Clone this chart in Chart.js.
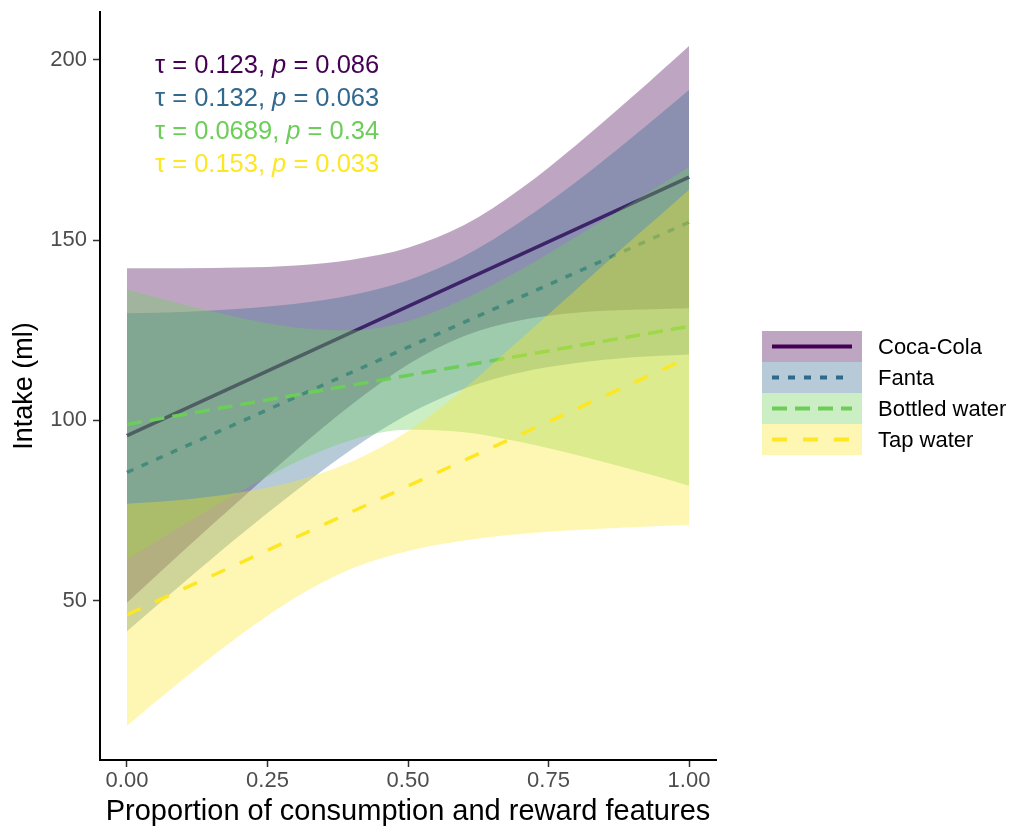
<!DOCTYPE html>
<html>
<head>
<meta charset="utf-8">
<script src="https://cdn.jsdelivr.net/npm/chart.js@4.4.1/dist/chart.umd.min.js"></script>
<style>
  html, body { margin: 0; background: #fff; }
</style>
</head>
<body>
<canvas id="chart" width="1015" height="829"></canvas>
<script>
const xGrid = [0, 0.1, 0.2, 0.3, 0.4, 0.5, 0.6, 0.7, 0.8, 0.9, 1.0];
const fitX = [0, 1];

const groups = ['Coca-Cola', 'Fanta', 'Bottled water', 'Tap water'];

const cocaUpper = [142.2, 142.2, 142.4, 143.0, 144.6, 147.9, 154.2, 164.2, 176.5, 189.9, 203.9];
const cocaLower = [49.4, 63.8, 77.8, 91.6, 104.4, 115.5, 123.4, 127.8, 129.9, 130.7, 131.1];
const cocaFit = [95.8, 167.5];

const fantaUpper = [129.7, 130.1, 131.0, 132.4, 134.8, 138.9, 145.6, 155.1, 166.3, 178.7, 191.7];
const fantaLower = [41.5, 54.9, 68.0, 80.4, 92.0, 101.7, 108.8, 113.3, 115.9, 117.5, 118.3];
const fantaFit = [85.6, 155.0];

const bottledUpper = [136.4, 132.2, 128.5, 125.8, 125.0, 127.6, 133.7, 141.8, 151.0, 160.5, 170.3];
const bottledLower = [61.4, 71.0, 80.1, 88.4, 94.6, 97.4, 96.7, 94.0, 90.4, 86.3, 81.9];
const bottledFit = [98.9, 126.1];

const tapUpper = [76.9, 78.0, 80.0, 83.2, 88.6, 97.0, 108.8, 122.5, 136.4, 150.3, 164.0];
const tapLower = [15.3, 28.2, 40.3, 50.9, 58.9, 63.8, 66.7, 68.5, 69.6, 70.4, 71.0];
const tapFit = [46.1, 117.5];

const stats = [
    ['0.123', '0.086'],
    ['0.132', '0.063'],
    ['0.0689', '0.34'],
    ['0.153', '0.033'],
];

const xTicks = [0, 0.25, 0.5, 0.75, 1];
const yTicks = [50, 100, 150, 200];

const colors = ['#440154', '#31688E', '#6CCE59', '#FDE725'];
const fills = ['rgba(68,1,84,0.35)', 'rgba(49,104,142,0.35)', 'rgba(108,206,89,0.35)', 'rgba(253,231,37,0.35)'];
const dashes = [[], [7, 9], [15, 8], [15, 16]];

const FONT = '"Liberation Sans", Arial, Helvetica, sans-serif';

const bands = [
    [cocaUpper, cocaLower, cocaFit],
    [fantaUpper, fantaLower, fantaFit],
    [bottledUpper, bottledLower, bottledFit],
    [tapUpper, tapLower, tapFit],
];

const pts = (xs, ys) => xs.map((x, i) => ({ x, y: ys[i] }));

// ggplot draws ribbon + line per group in turn; Chart.js paints the highest order first
const datasets = [];
bands.forEach(([up, lo, fit], g) => {
    const base = 100 - g * 10;
    datasets.push({
        label: groups[g] + ' upper',
        data: pts(xGrid, up),
        borderWidth: 0,
        pointRadius: 0,
        backgroundColor: fills[g],
        fill: '+1',
        cubicInterpolationMode: 'monotone',
        order: base,
    });
    datasets.push({
        label: groups[g] + ' lower',
        data: pts(xGrid, lo),
        borderWidth: 0,
        pointRadius: 0,
        fill: false,
        cubicInterpolationMode: 'monotone',
        order: base - 1,
    });
    datasets.push({
        label: groups[g],
        data: pts(fitX, fit),
        borderColor: colors[g],
        borderWidth: 3.5,
        borderDash: dashes[g],
        borderCapStyle: 'butt',
        pointRadius: 0,
        fill: false,
        order: base - 2,
    });
});

// Texte tau / p en haut à gauche + légende à droite
const overlayPlugin = {
    id: 'overlay',
    afterDraw(chart) {
        const { ctx } = chart;
        ctx.save();
        ctx.textBaseline = 'middle';
        ctx.textAlign = 'left';

        stats.forEach(([tau, p], g) => {
            const y = 66 + g * 33;
            let x = 155;
            ctx.fillStyle = colors[g];
            ctx.font = `25.5px ${FONT}`;
            const a = `\u03C4 = ${tau}, `;
            ctx.fillText(a, x, y);
            x += ctx.measureText(a).width;
            ctx.font = `italic 25.5px ${FONT}`;
            ctx.fillText('p', x, y);
            x += ctx.measureText('p').width;
            ctx.font = `25.5px ${FONT}`;
            ctx.fillText(` = ${p}`, x, y);
        });

        const top = 331, rowH = 31, boxX = 762, boxW = 100;
        groups.forEach((name, g) => {
            const y0 = top + g * rowH;
            ctx.fillStyle = fills[g];
            ctx.fillRect(boxX, y0, boxW, rowH);
            ctx.beginPath();
            ctx.setLineDash(dashes[g]);
            ctx.moveTo(boxX + 10, y0 + rowH / 2);
            ctx.lineTo(boxX + boxW - 10, y0 + rowH / 2);
            ctx.strokeStyle = colors[g];
            ctx.lineWidth = 4;
            ctx.stroke();
            ctx.setLineDash([]);
            ctx.fillStyle = '#000';
            ctx.font = `22px ${FONT}`;
            ctx.fillText(name, 878, y0 + rowH / 2 + 1);
        });
        ctx.restore();
    },
};

new Chart(document.getElementById('chart'), {
    type: 'line',
    data: { datasets },
    plugins: [overlayPlugin],
    options: {
        responsive: false,
        animation: false,
        layout: { padding: { top: 12, right: 299, left: 0, bottom: 0 } },
        plugins: {
            legend: { display: false },
            tooltip: { enabled: false },
        },
        scales: {
            x: {
                type: 'linear',
                min: -0.048,
                max: 1.048,
                afterBuildTicks: s => { s.ticks = xTicks.map(v => ({ value: v })); },
                afterFit: s => { s.height = 69; s.paddingLeft = 0; s.paddingRight = 0; },
                grid: { drawOnChartArea: false, drawTicks: true, tickLength: 7, tickColor: '#333', tickWidth: 1.5 },
                border: { display: true, color: '#000', width: 2 },
                ticks: {
                    color: '#4D4D4D',
                    font: { family: FONT, size: 22 },
                    padding: 1,
                    maxRotation: 0,
                    callback: v => v.toFixed(2),
                },
                title: {
                    display: true,
                    text: 'Proportion of consumption and reward features',
                    color: '#000',
                    font: { family: FONT, size: 29 },
                    padding: { top: 0, bottom: 0 },
                },
            },
            y: {
                type: 'linear',
                min: 5.8,
                max: 213.3,
                afterBuildTicks: s => { s.ticks = yTicks.map(v => ({ value: v })); },
                afterFit: s => { s.width = 100; s.paddingTop = 0; s.paddingBottom = 0; },
                grid: { drawOnChartArea: false, drawTicks: true, tickLength: 7, tickColor: '#333', tickWidth: 1.5 },
                border: { display: true, color: '#000', width: 2 },
                ticks: {
                    color: '#4D4D4D',
                    font: { family: FONT, size: 22 },
                    padding: 6,
                },
                title: {
                    display: true,
                    text: 'Intake (ml)',
                    color: '#000',
                    font: { family: FONT, size: 27 },
                    padding: { top: 8, bottom: 0 },
                },
            },
        },
    },
});
</script>
</body>
</html>
